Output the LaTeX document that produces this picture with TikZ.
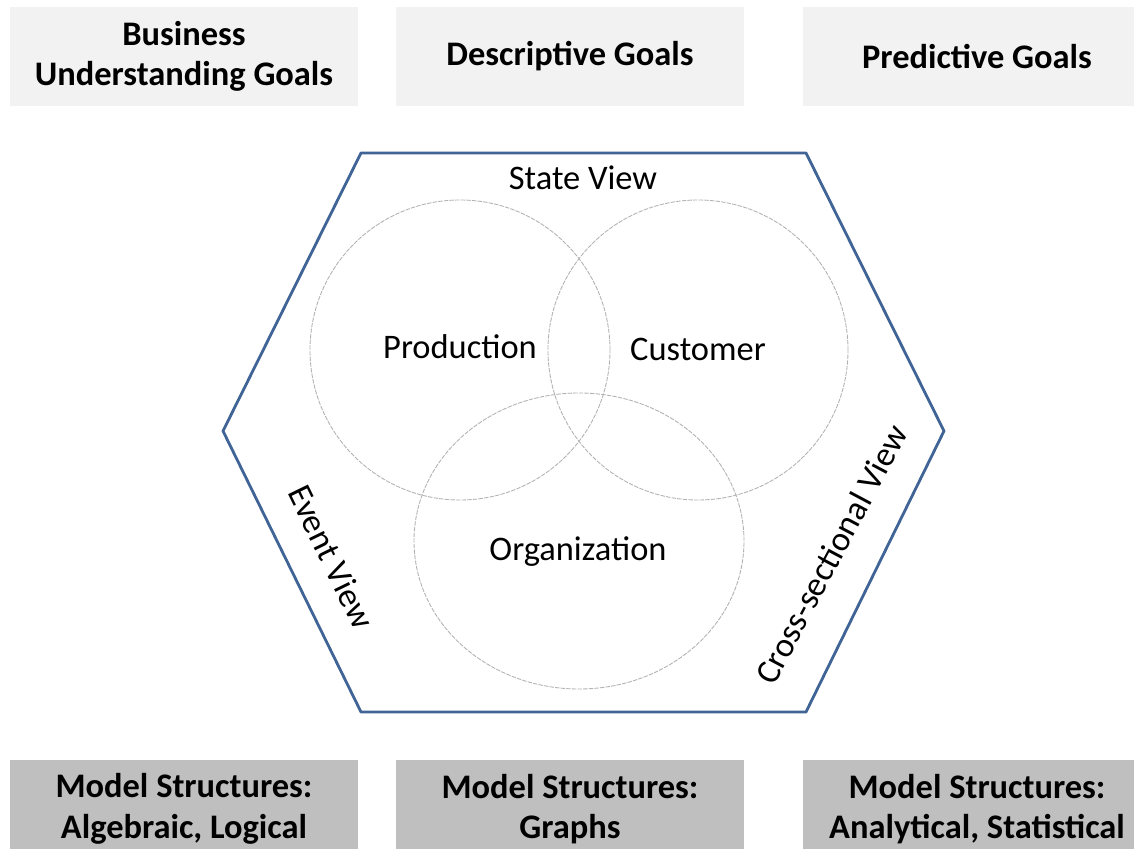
\documentclass[tikz,border=0pt]{standalone}
\usepackage{fontspec}
\setmainfont{Carlito}
\definecolor{hexblue}{RGB}{64,100,150}
\begin{document}
\begin{tikzpicture}[every node/.style={font=\fontsize{19.6}{23}\selectfont},
    goalbox/.style={fill=black!5, minimum width=6.96cm, minimum height=1.98cm, align=center, font=\fontsize{19.6}{23}\selectfont\bfseries},
    modelbox/.style={fill=black!25, minimum width=6.96cm, minimum height=1.96cm, align=center, font=\fontsize{19.6}{23}\selectfont\bfseries},
    area/.style={draw=gray!60, line width=0.5pt, dash pattern=on 2.5pt off 0.7pt}]
    \useasboundingbox (0,0) rectangle (22.68,16.96);
    \clip (0,0) rectangle (22.68,16.96);

    % Goals
    \node[goalbox] (business) at (3.68,15.83) {Business\\Understanding Goals};
    \node[goalbox] (descriptive) at (11.40,15.83) {Descriptive Goals};
    \node[goalbox] (predictive) at (19.54,15.83) {Predictive Goals};

    % Hexagon
    \draw[hexblue, line width=1.6pt, line join=round] (7.22,13.90) -- (16.12,13.90) -- (18.88,8.34)
        -- (16.12,2.72) -- (7.22,2.72) -- (4.46,8.34) -- cycle;

    % Areas
    \draw[area] (9.20,9.96) circle (3.0);
    \draw[area] (13.96,9.96) circle (3.0);
    \draw[area] (11.58,6.14) ellipse (3.3 and 2.96);

    \node (production) at (9.20,10.02) {Production};
    \node (customer) at (13.96,9.98) {Customer};
    \node (organization) at (11.56,5.92) {Organization};

    % Views
    \node (state) at (11.66,13.40) {State View};
    \node[rotate=-64] (event) at (6.63,5.82) {Event View};
    \node[rotate=62] (cross) at (16.62,5.88) {Cross-sectional View};

    % Model structures
    \node[modelbox] (algebraic) at (3.68,0.78) {Model Structures:\\Algebraic, Logical};
    \node[modelbox] (graphs) at (11.40,0.78) {Model Structures:\\Graphs};
    \node[modelbox] (analytical) at (19.54,0.78) {Model Structures:\\Analytical, Statistical};
\end{tikzpicture}
\end{document}
